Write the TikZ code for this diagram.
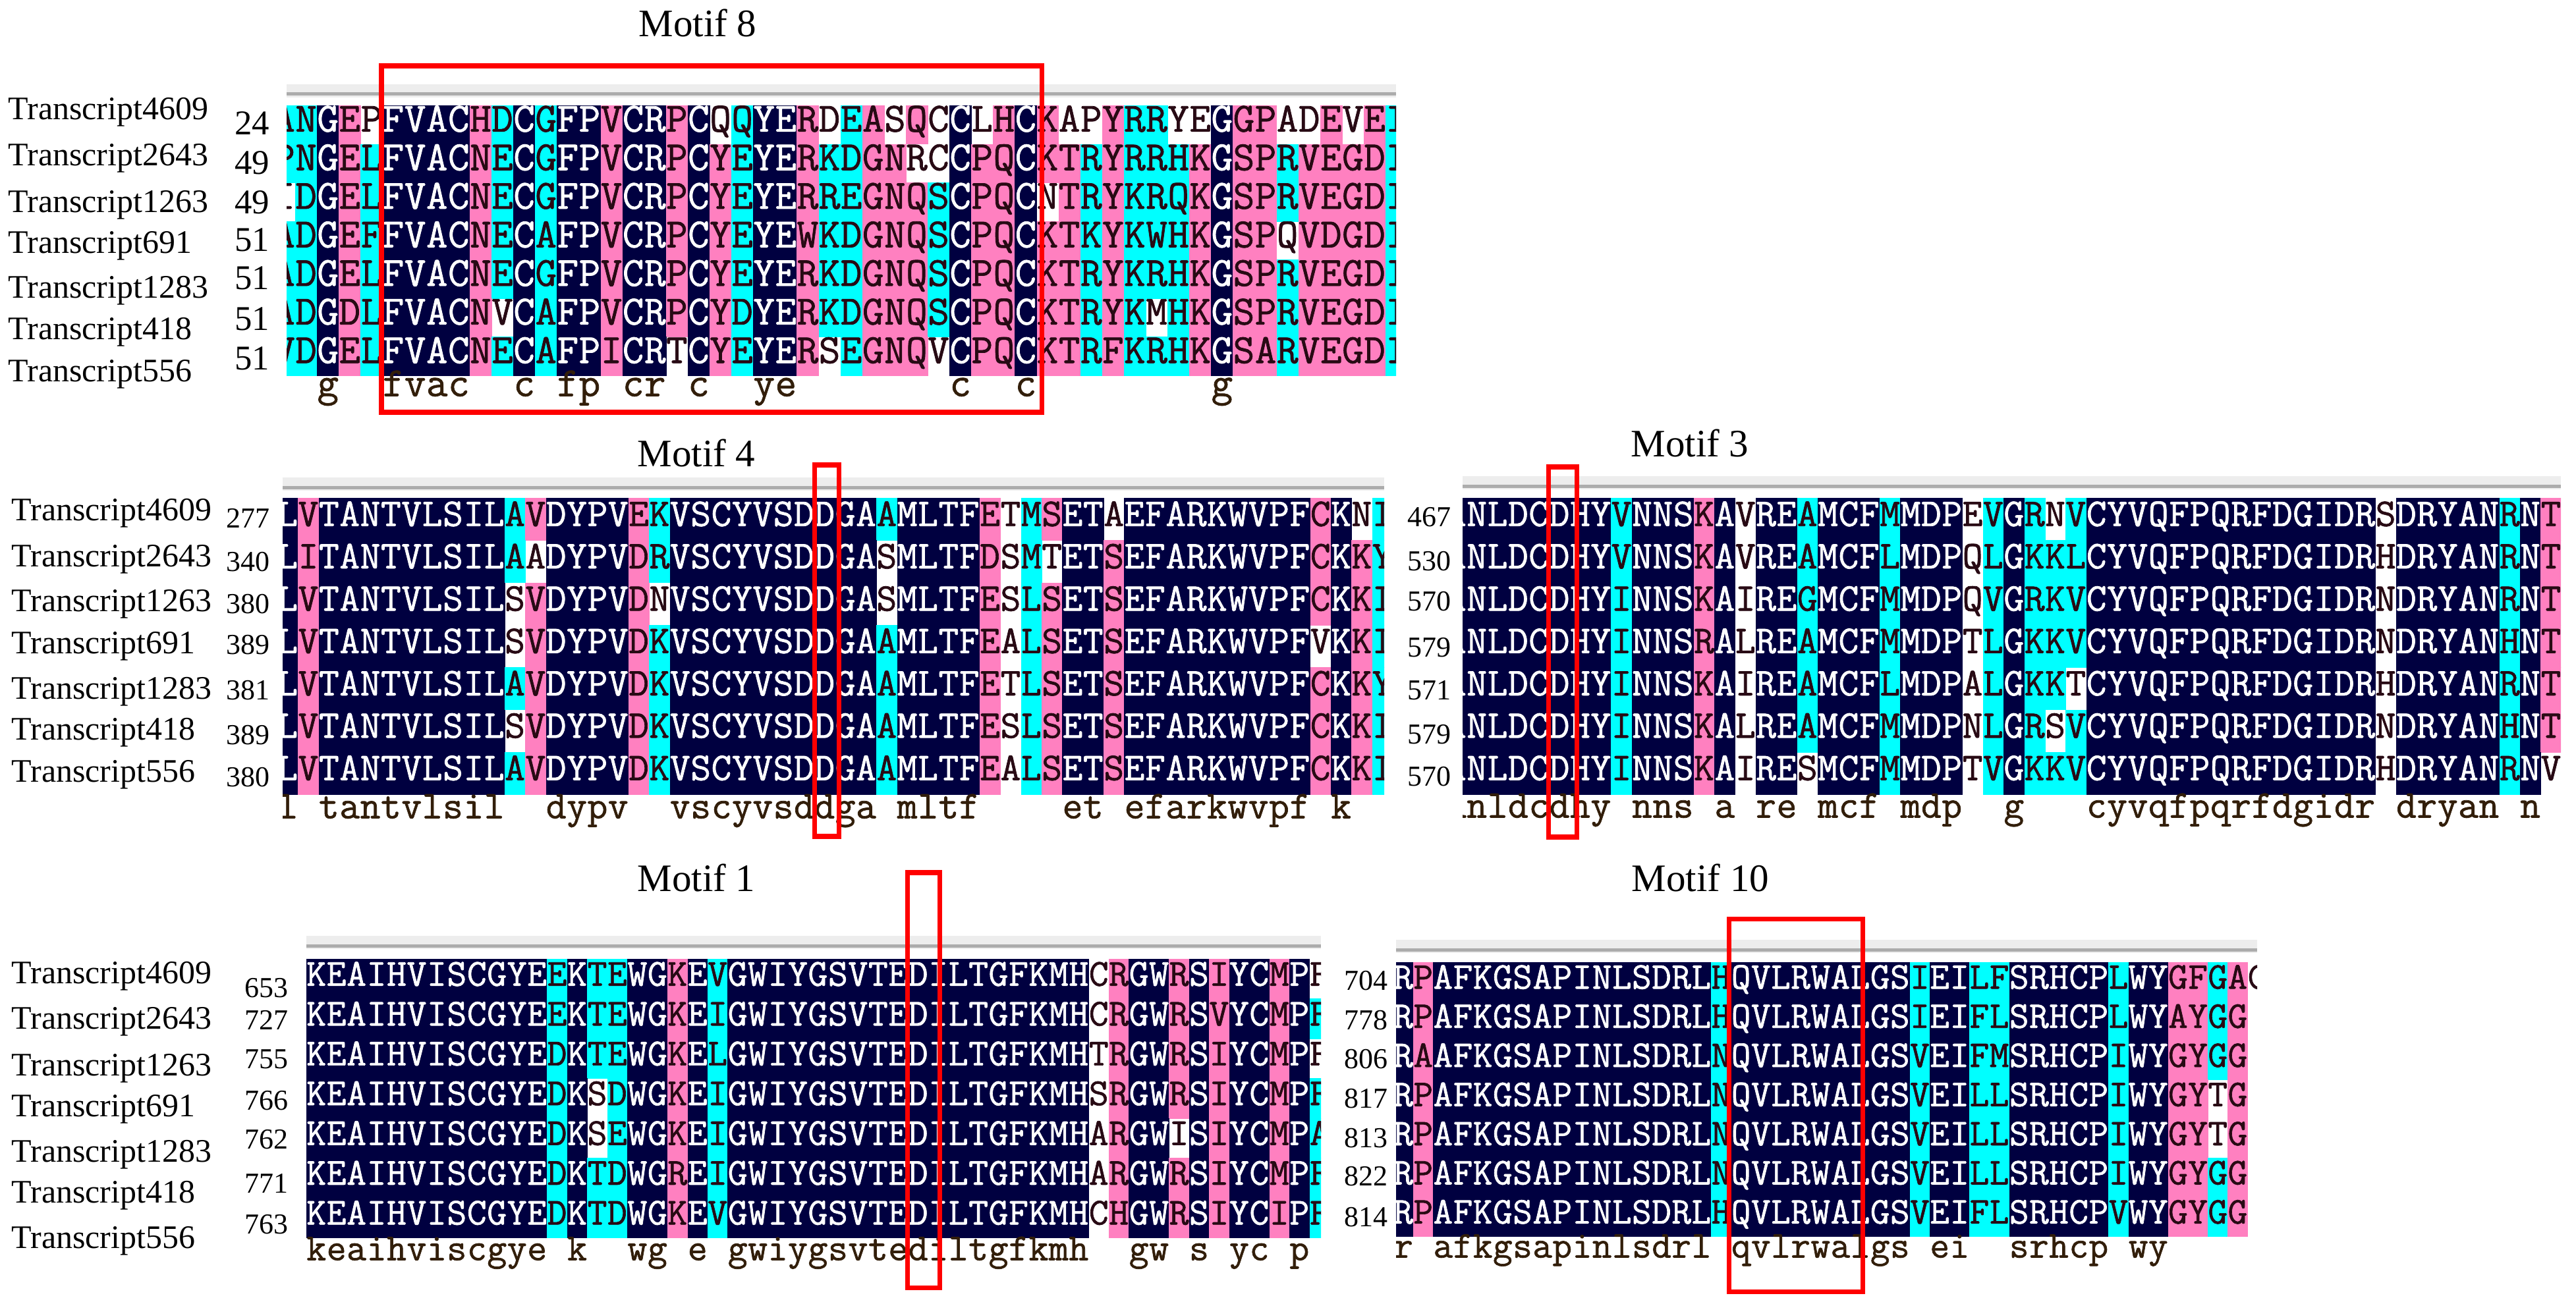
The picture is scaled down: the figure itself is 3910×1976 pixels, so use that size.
\documentclass[tikz,border=0pt]{standalone}
\usepackage{fontspec}
\setmainfont{Liberation Serif}
\newfontfamily\resfont[FakeBold=1.2]{Latin Modern Mono}
\usepackage{tikz}

\definecolor{seqnavy}{RGB}{0,0,64}
\definecolor{seqpink}{RGB}{255,128,192}
\definecolor{seqcyan}{RGB}{0,255,255}
\definecolor{seqtext}{RGB}{40,10,20}
\definecolor{constext}{RGB}{50,30,10}

% one alignment row: letters and their shading codes (n, p, c, w)
\makeatletter
\newcount\alncol
\def\aln@loop#1#2\@nil#3#4\@nil{%
  \global\advance\alncol by 1
  \aln@do{#1}{#3}%
  \def\aln@rest{#2}%
  \ifx\aln@rest\@empty\else\aln@loop#2\@nil#4\@nil\fi}
\def\aln@cell#1#2{%
  \path[cell #2] ({\alnx+(\the\alncol-1)*\alnw},{\alny-\alnh/2}) rectangle ++({\alnw+0.8},{\alnh+0.8});
  \node[res #2] (\alnname-\the\alncol) at ({\alnx+(\the\alncol-0.5)*\alnw},\alny) {#1};}
\def\aln@cons#1#2{%
  \ifx n#2\node[cons] (\alnname-\the\alncol) at ({\alnx+(\the\alncol-0.5)*\alnw},\alncy) {\lowercase{#1}};\fi}
\newcommand\alnrow[4]{%
  \pgfmathsetmacro\alny{\alntop+(#2-0.5)*\alnh}%
  \def\alnname{#1}\global\alncol=0
  \let\aln@do\aln@cell
  \aln@loop#3\@nil#4\@nil}
\newcommand\alncons[3]{%
  \def\alnname{#1}\global\alncol=0
  \let\aln@do\aln@cons
  \aln@loop#2\@nil#3\@nil}
\makeatother

\begin{document}
\begin{tikzpicture}
      [x=0.01cm, y=-0.01cm,
      cell n/.style={fill=seqnavy}, cell p/.style={fill=seqpink},
      cell c/.style={fill=seqcyan}, cell w/.style={},
      res/.style={font=\resfont\fontsize{\alnfs}{\alnfs}\selectfont, inner sep=0pt, text height=0.6em, text depth=0pt},
      res n/.style={res, text=white}, res p/.style={res, text=seqtext},
      res c/.style={res, text=seqtext}, res w/.style={res, text=seqtext},
      cons/.style={res, text=constext},
      tname/.style={font=\fontsize{14.2}{15}\selectfont, anchor=west, inner sep=0pt},
      snum/.style={font=\fontsize{12.5}{13}\selectfont, anchor=east, inner sep=0pt},
      bignum/.style={snum, font=\fontsize{15}{16}\selectfont},
      motif/.style={font=\fontsize{16.8}{18}\selectfont, inner sep=0pt},
      motifbox/.style={draw=red, line width=2pt},
      barlight/.style={fill=gray!14}, bardark/.style={fill=gray!65}
      ]
      \useasboundingbox (0,0) rectangle (3910,1976);

      % titles
      \node[motif] (t8) at (1059,35) {Motif 8};
      \node[motif] (t4) at (1057,688) {Motif 4};
      \node[motif] (t3) at (2565,673) {Motif 3};
      \node[motif] (t1) at (1057,1333) {Motif 1};
      \node[motif] (t10) at (2581,1333) {Motif 10};

      % transcript names
      \foreach \t/\yy in {4609/170, 2643/240, 1263/311, 691/373, 1283/441, 418/504, 556/568}
        \node[tname] (a\t) at (12,\yy) {Transcript\t};
      \foreach \t/\yy in {4609/779, 2643/849, 1263/917, 691/981, 1283/1050, 418/1112, 556/1176}
        \node[tname] (b\t) at (17,\yy) {Transcript\t};
      \foreach \t/\yy in {4609/1482, 2643/1551, 1263/1622, 691/1684, 1283/1753, 418/1815, 556/1884}
        \node[tname] (c\t) at (17,\yy) {Transcript\t};

      % start positions
      \foreach \n/\yy [count=\i] in {24/187, 49/247, 49/307, 51/364, 51/422, 51/484, 51/544}
        \node[bignum] (s8-\i) at (410,\yy) {\n};
      \foreach \n/\yy [count=\i] in {277/787, 340/853, 380/917, 389/979, 381/1048, 389/1116, 380/1180}
        \node[snum] (s4-\i) at (410,\yy) {\n};
      \foreach \n/\yy [count=\i] in {467/785, 530/852, 570/913, 579/983, 571/1048, 579/1115, 570/1179}
        \node[snum] (s3-\i) at (2203,\yy) {\n};
      \foreach \n/\yy [count=\i] in {653/1500, 727/1549, 755/1608, 766/1671, 762/1730, 771/1797, 763/1859}
        \node[snum] (s1-\i) at (438,\yy) {\n};
      \foreach \n/\yy [count=\i] in {704/1489, 778/1549, 806/1608, 817/1668, 813/1728, 822/1786, 814/1848}
        \node[snum] (s10-\i) at (2107,\yy) {\n};

      % ruler bars
      \foreach \xa/\xb/\yb in {435/2119/143, 429/2101/740, 2220/3887/738, 465/2005/1436, 2119/3426/1442} {
        \fill[barlight] (\xa,\yb-15) rectangle (\xb,\yb+5);
        \fill[bardark] (\xa,\yb-2.5) rectangle (\xb,\yb+2.5);
      }

      % Motif 8
      \begin{scope}
        \clip (435,150) rectangle (2119,640);
        \def\alnx{415}\def\alnw{33.1}\def\alntop{160}\def\alnh{58.57}\def\alnfs{17.94}\def\alncy{591}
        \alnrow{m8r1}{1}{ANGEPFVACHDCGFPVCRPCQQYERDEASQCCLHCKAPYRRYEGGPADEVEI}{ccnpwnnnnpcncnnpnnpnwcnnpwcpwpwnwpnpwwpccwwnppwwpwpc}
        \alnrow{m8r2}{2}{PNGELFVACNECGFPVCRPCYEYERKDGNRCCPQCKTRYRRHKGSPRVEGDI}{ccnpcnnnnpcncnnpnnpnpcnnpccppwwnppnppcpcccpnppcppppc}
        \alnrow{m8r3}{3}{IDGELFVACNECGFPVCRPCYEYERREGNQSCPQCNTRYKRQKGSPRVEGDI}{wcnpcnnnnpcncnnpnnpnpcnnpccpppcnppnwpcpcccpnppcppppc}
        \alnrow{m8r4}{4}{ADGEFFVACNECAFPVCRPCYEYEWKDGNQSCPQCKTKYKWHKGSPQVDGDI}{ccnpcnnnnpcncnnpnnpnpcnnpccpppcnppnppcpcccpnppwppppc}
        \alnrow{m8r5}{5}{ADGELFVACNECGFPVCRPCYEYERKDGNQSCPQCKTRYKRHKGSPRVEGDI}{ccnpcnnnnpcncnnpnnpnpcnnpccpppcnppnppcpcccpnppcppppc}
        \alnrow{m8r6}{6}{ADGDLFVACNVCAFPVCRPCYDYERKDGNQSCPQCKTRYKMHKGSPRVEGDI}{ccnpcnnnnpwncnnpnnpnpcnnpccpppcnppnppcpcwcpnppcppppc}
        \alnrow{m8r7}{7}{VDGELFVACNECAFPICRTCYEYERSEGNQVCPQCKTRFKRHKGSARVEGDI}{ccnpcnnnnpcncnnpnnwnpcnnpwcpppwnppnppcpcccpnppcppppc}
        \alncons{m8k}{ANGEPFVACHDCGFPVCRPCQQYERDEASQCCLHCKAPYRRYEGGPADEVEI}{ccnpwnnnnpcncnnpnnpnwcnnpwcpwpwnwpnpwwpccwwnppwwpwpc}
      \end{scope}

      % Motif 4
      \begin{scope}
        \clip (429,748) rectangle (2101,1275);
        \def\alnx{421}\def\alnw{31.35}\def\alntop{756}\def\alnh{64.3}\def\alnfs{16.99}\def\alncy{1232}
        \alnrow{m4r1}{1}{LVTANTVLSILAVDYPVEKVSCYVSDDGAAMLTFETMSETAEFARKWVPFCKNI}{npnnnnnnnnncpnnnnpcnnnnnnnnnncnnnnpwcpnnwnnnnnnnnnpnwc}
        \alnrow{m4r2}{2}{LITANTVLSILAADYPVDRVSCYVSDDGASMLTFDSMTETSEFARKWVPFCKKY}{npnnnnnnnnncwnnnnpcnnnnnnnnnnwnnnnpwcwnnpnnnnnnnnnpnpc}
        \alnrow{m4r3}{3}{LVTANTVLSILSVDYPVDNVSCYVSDDGASMLTFESLSETSEFARKWVPFCKKI}{npnnnnnnnnnwpnnnnpwnnnnnnnnnnwnnnnpwcpnnpnnnnnnnnnpnpc}
        \alnrow{m4r4}{4}{LVTANTVLSILSVDYPVDKVSCYVSDDGAAMLTFEALSETSEFARKWVPFVKKI}{npnnnnnnnnnwpnnnnpcnnnnnnnnnncnnnnpwcpnnpnnnnnnnnnwnpc}
        \alnrow{m4r5}{5}{LVTANTVLSILAVDYPVDKVSCYVSDDGAAMLTFETLSETSEFARKWVPFCKKY}{npnnnnnnnnncpnnnnpcnnnnnnnnnncnnnnpwcpnnpnnnnnnnnnpnpc}
        \alnrow{m4r6}{6}{LVTANTVLSILSVDYPVDKVSCYVSDDGAAMLTFESLSETSEFARKWVPFCKKI}{npnnnnnnnnnwpnnnnpcnnnnnnnnnncnnnnpwcpnnpnnnnnnnnnpnpc}
        \alnrow{m4r7}{7}{LVTANTVLSILAVDYPVDKVSCYVSDDGAAMLTFEALSETSEFARKWVPFCKKI}{npnnnnnnnnncpnnnnpcnnnnnnnnnncnnnnpwcpnnpnnnnnnnnnpnpc}
        \alncons{m4k}{LVTANTVLSILAVDYPVEKVSCYVSDDGAAMLTFETMSETAEFARKWVPFCKNI}{npnnnnnnnnncpnnnnpcnnnnnnnnnncnnnnpwcpnnwnnnnnnnnnpnwc}
      \end{scope}

      % Motif 3
      \begin{scope}
        \clip (2220,748) rectangle (3887,1275);
        \def\alnx{2194.65}\def\alnw{31.35}\def\alntop{756}\def\alnh{64.3}\def\alnfs{16.99}\def\alncy{1231}
        \alnrow{m3r1}{1}{ANLDCDHYVNNSKAVREAMCFMMDPEVGRNVCYVQFPQRFDGIDRSDRYANRNT}{nnnnnnnncnnnpnwnncnnncnnnwcncwcnnnnnnnnnnnnnnwnnnnncnp}
        \alnrow{m3r2}{2}{ANLDCDHYVNNSKAVREAMCFLMDPQLGKKLCYVQFPQRFDGIDRHDRYANRNT}{nnnnnnnncnnnpnwnncnnncnnnwcncccnnnnnnnnnnnnnnwnnnnncnp}
        \alnrow{m3r3}{3}{ANLDCDHYINNSKAIREGMCFMMDPQVGRKVCYVQFPQRFDGIDRNDRYANRNT}{nnnnnnnncnnnpnwnncnnncnnnwcncccnnnnnnnnnnnnnnwnnnnncnp}
        \alnrow{m3r4}{4}{ANLDCDHYINNSRALREAMCFMMDPTLGKKVCYVQFPQRFDGIDRNDRYANHNT}{nnnnnnnncnnnpnwnncnnncnnnwcncccnnnnnnnnnnnnnnwnnnnncnp}
        \alnrow{m3r5}{5}{ANLDCDHYINNSKAIREAMCFLMDPALGKKTCYVQFPQRFDGIDRHDRYANRNT}{nnnnnnnncnnnpnwnncnnncnnnwcnccwnnnnnnnnnnnnnnwnnnnncnp}
        \alnrow{m3r6}{6}{ANLDCDHYINNSKALREAMCFMMDPNLGRSVCYVQFPQRFDGIDRNDRYANHNT}{nnnnnnnncnnnpnwnncnnncnnnwcncwcnnnnnnnnnnnnnnwnnnnncnp}
        \alnrow{m3r7}{7}{ANLDCDHYINNSKAIRESMCFMMDPTVGKKVCYVQFPQRFDGIDRHDRYANRNV}{nnnnnnnncnnnpnwnnwnnncnnnwcncccnnnnnnnnnnnnnnwnnnnncnw}
        \alncons{m3k}{ANLDCDHYVNNSKAVREAMCFMMDPEVGRNVCYVQFPQRFDGIDRSDRYANRNT}{nnnnnnnncnnnpnwnncnnncnnnwcncwcnnnnnnnnnnnnnnwnnnnncnp}
      \end{scope}

      % Motif 1
      \begin{scope}
        \clip (465,1448) rectangle (2005,1950);
        \def\alnx{465}\def\alnw{30.45}\def\alntop{1456}\def\alnh{60.43}\def\alnfs{16.5}\def\alncy{1903}
        \alnrow{m1r1}{1}{KEAIHVISCGYEEKTEWGKEVGWIYGSVTEDILTGFKMHCRGWRSIYCMPF}{nnnnnnnnnnnncnccnnpncnnnnnnnnnnnnnnnnnnwpnnpnpnnpnw}
        \alnrow{m1r2}{2}{KEAIHVISCGYEEKTEWGKEIGWIYGSVTEDILTGFKMHCRGWRSVYCMPF}{nnnnnnnnnnnncnccnnpncnnnnnnnnnnnnnnnnnnwpnnpnpnnpnc}
        \alnrow{m1r3}{3}{KEAIHVISCGYEDKTEWGKELGWIYGSVTEDILTGFKMHTRGWRSIYCMPF}{nnnnnnnnnnnncnccnnpncnnnnnnnnnnnnnnnnnnwpnnpnpnnpnw}
        \alnrow{m1r4}{4}{KEAIHVISCGYEDKSDWGKEIGWIYGSVTEDILTGFKMHSRGWRSIYCMPF}{nnnnnnnnnnnncnwcnnpncnnnnnnnnnnnnnnnnnnwpnnpnpnnpnc}
        \alnrow{m1r5}{5}{KEAIHVISCGYEDKSEWGKEIGWIYGSVTEDILTGFKMHARGWISIYCMPA}{nnnnnnnnnnnncnwcnnpncnnnnnnnnnnnnnnnnnnwpnnwnpnnpnc}
        \alnrow{m1r6}{6}{KEAIHVISCGYEDKTDWGREIGWIYGSVTEDILTGFKMHARGWRSIYCMPF}{nnnnnnnnnnnncnccnnpncnnnnnnnnnnnnnnnnnnwpnnpnpnnpnc}
        \alnrow{m1r7}{7}{KEAIHVISCGYEDKTDWGKEVGWIYGSVTEDILTGFKMHCHGWRSIYCIPF}{nnnnnnnnnnnncnccnnpncnnnnnnnnnnnnnnnnnnwpnnpnpnnpnc}
        \alncons{m1k}{KEAIHVISCGYEEKTEWGKEVGWIYGSVTEDILTGFKMHCRGWRSIYCMPF}{nnnnnnnnnnnncnccnnpncnnnnnnnnnnnnnnnnnnwpnnpnpnnpnw}
      \end{scope}

      % Motif 10
      \begin{scope}
        \clip (2119,1453) rectangle (3426,1950);
        \def\alnx{2115}\def\alnw{30.15}\def\alntop{1461}\def\alnh{59.43}\def\alnfs{16.34}\def\alncy{1899}
        \alnrow{m10r1}{1}{RPAFKGSAPINLSDRLHQVLRWALGSIEILFSRHCPLWYGFGAC}{npnnnnnnnnnnnnnncnnnnnnnnncnnccnnnnncnnppcpw}
        \alnrow{m10r2}{2}{RPAFKGSAPINLSDRLHQVLRWALGSIEIFLSRHCPLWYAYGG}{npnnnnnnnnnnnnnncnnnnnnnnncnnccnnnnncnnppcp}
        \alnrow{m10r3}{3}{RAAFKGSAPINLSDRLNQVLRWALGSVEIFMSRHCPIWYGYGG}{npnnnnnnnnnnnnnncnnnnnnnnncnnccnnnnncnnppcp}
        \alnrow{m10r4}{4}{RPAFKGSAPINLSDRLNQVLRWALGSVEILLSRHCPIWYGYTG}{npnnnnnnnnnnnnnncnnnnnnnnncnnccnnnnncnnppwp}
        \alnrow{m10r5}{5}{RPAFKGSAPINLSDRLNQVLRWALGSVEILLSRHCPIWYGYTG}{npnnnnnnnnnnnnnncnnnnnnnnncnnccnnnnncnnppwp}
        \alnrow{m10r6}{6}{RPAFKGSAPINLSDRLNQVLRWALGSVEILLSRHCPIWYGYGG}{npnnnnnnnnnnnnnncnnnnnnnnncnnccnnnnncnnppcp}
        \alnrow{m10r7}{7}{RPAFKGSAPINLSDRLHQVLRWALGSVEIFLSRHCPVWYGYGG}{npnnnnnnnnnnnnnncnnnnnnnnncnnccnnnnncnnppcp}
        \alncons{m10k}{RPAFKGSAPINLSDRLHQVLRWALGSIEILFSRHCPLWYGFGAC}{npnnnnnnnnnnnnnncnnnnnnnnncnnccnnnnncnnppcpw}
      \end{scope}

      % motif boxes
      \draw[motifbox] (579,100) rectangle (1581,626);
      \draw[motifbox] (1236,706) rectangle (1273,1270);
      \draw[motifbox] (2350,709) rectangle (2393,1271);
      \draw[motifbox] (1377,1325) rectangle (1426,1955);
      \draw[motifbox] (2624,1395) rectangle (2827,1961);
\end{tikzpicture}
\end{document}
